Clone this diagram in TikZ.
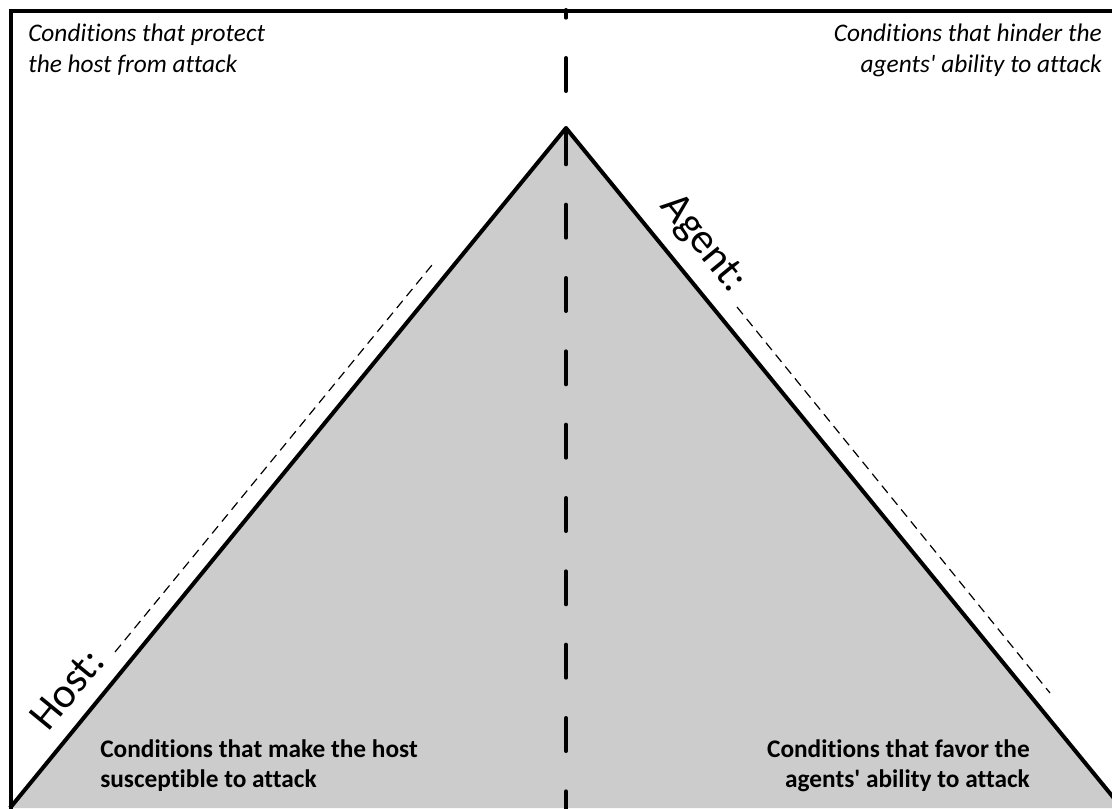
\documentclass[tikz,border=0pt]{standalone}
\usepackage{fontspec}
\setmainfont[Ligatures={TeX,NoCommon}]{Carlito}
\definecolor{tri}{HTML}{CCCCCC}
\tikzset{
  thickline/.style={line width=3pt, line join=round},
  guide/.style={line width=0.9pt, dash pattern=on 7pt off 4.5pt},
  axis/.style={line width=3pt, line cap=round, dash pattern=on 24.75pt off 30.25pt, dash phase=19pt},
  topnote/.style={inner sep=0pt, font=\fontsize{19}{23.25}\selectfont\itshape},
  botnote/.style={inner sep=0pt, font=\fontsize{19}{22.5}\selectfont\bfseries},
  side/.style={inner sep=0pt, font=\fontsize{32}{34}\selectfont}
}
\begin{document}
\begin{tikzpicture}[x=0.75pt, y=-0.75pt]
\useasboundingbox (0,0) rectangle (1112,808);
\clip (0,0) rectangle (1112,808);
\coordinate (apex) at (566,128);
\coordinate (bl) at (10,808);
\coordinate (br) at (1122,808);
\coordinate (ctop) at (566,10);
\coordinate (cbot) at (566,820);
\coordinate (fl1) at (11,812);
\coordinate (fc) at (11,11);
\coordinate (fr) at (1116,11);
% triangle
\fill[tri] (bl) -- (apex) -- (br) -- cycle;
\draw[thickline] (bl) -- (apex) -- (br);
% frame
\draw[line width=3pt] (fl1) -- (fc) -- (fr);
% centre dashed axis
\draw[axis] (ctop) -- (cbot);
% guide lines
\coordinate (g1a) at (115,652);
\coordinate (g1b) at (432,265);
\coordinate (g2a) at (737,307);
\coordinate (g2b) at (1050,693);
\draw[guide] (g1a) -- (g1b);
\draw[guide] (g2a) -- (g2b);
% texts
\node[topnote, anchor=base west, align=left] (tl) at (28,72) {Conditions that protect\\the host from attack};
\node[topnote, anchor=base east, align=right] (tr) at (1102,72) {Conditions that hinder the\\agents\textquotesingle{} ability to attack};
\node[botnote, anchor=base west, align=left] (blt) at (100,787) {Conditions that make the host\\susceptible to attack};
\node[botnote, anchor=base east, align=right] (brt) at (1030,787) {Conditions that favor the\\agents\textquotesingle{} ability to attack};
\node[side, rotate=50.7] (host) at (67,689) {Host:};
\node[side, rotate=-50.7] (agent) at (703,244) {Agent:};
\end{tikzpicture}
\end{document}
